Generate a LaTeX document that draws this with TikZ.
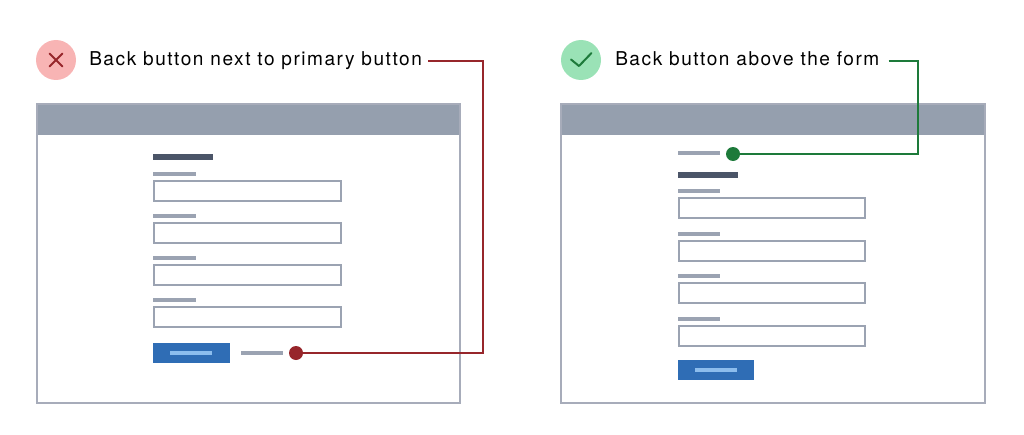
\documentclass[tikz,border=0pt]{standalone}
\usepackage{fontspec}
\setmainfont{TeX Gyre Heros}[LetterSpace=8]
\usetikzlibrary{calc}
\definecolor{headgray}{HTML}{959FAE}
\definecolor{framegray}{HTML}{A7ACBA}
\definecolor{fieldgray}{HTML}{9BA3B2}
\definecolor{headdark}{HTML}{4B5568}
\definecolor{btnblue}{HTML}{2F6DB5}
\definecolor{btnlight}{HTML}{8CBDED}
\definecolor{badred}{HTML}{97262B}
\definecolor{badpink}{HTML}{F8B4B4}
\definecolor{goodgreen}{HTML}{1D7A3A}
\definecolor{goodmint}{HTML}{9AE2B6}
\tikzset{
  winframe/.style={draw=framegray, line width=1.1pt},
  fieldbar/.style={draw=fieldgray, line width=2.4pt},
  headbar/.style={draw=headdark, line width=4.5pt},
  fieldbox/.style={draw=fieldgray, line width=1.6pt},
  btnline/.style={draw=btnlight, line width=2.4pt},
  icon/.style={circle, minimum size=30pt, inner sep=0pt},
  dot/.style={circle, minimum size=10.5pt, inner sep=0pt},
  caption/.style={anchor=base west, inner sep=0pt, font=\fontsize{14.3}{16}\selectfont},
}
\begin{document}
\begin{tikzpicture}[x=0.75pt,y=-0.75pt]
  \useasboundingbox (0,0) rectangle (1024,435);

  % Bad example: icon and caption
  \node[icon, fill=badpink] (badicon) at (56,60) {};
  \draw[badred, line width=1.5pt, line cap=round]
    ($(badicon.center)+(-6.5,-6.5)$) -- ($(badicon.center)+(6.5,6.5)$)
    ($(badicon.center)+(-6.5,6.5)$) -- ($(badicon.center)+(6.5,-6.5)$);
  \node[caption] (badtext) at (89,66) {Back button next to primary button};

  % Bad example: window
  \fill[headgray] (37,104) rectangle (460,135);
  \draw[winframe] (37,104) rectangle (460,403);
  \draw[headbar] (153,157) -- (213,157);
  \foreach \t in {181,223,265,307} {
    \draw[fieldbar] (153,\t-7) -- (196,\t-7);
    \draw[fieldbox] (154,\t) rectangle (341,\t+20);
  }
  \fill[btnblue] (153,343) rectangle (230,363);
  \draw[btnline] (170,353) -- (212,353);
  \draw[fieldbar] (241,353) -- (283,353);

  % Bad example: leader to back button
  \coordinate (badturn) at (483,353);
  \node[dot, fill=badred] (baddot) at (296,353) {};
  \draw[badred, line width=0.9pt] ($(badtext.base east)+(6,-5)$) -| (badturn) -- (baddot);

  % Good example: icon and caption
  \node[icon, fill=goodmint] (goodicon) at (581,60) {};
  \draw[goodgreen, line width=1.5pt, line cap=round, line join=round]
    ($(goodicon.center)+(-10,-0.5)$) -- ($(goodicon.center)+(-2,6)$) -- ($(goodicon.center)+(10.5,-7)$);
  \node[caption] (goodtext) at (615,66) {Back button above the form};

  % Good example: window
  \fill[headgray] (561,104) rectangle (985,135);
  \draw[winframe] (561,104) rectangle (985,403);
  \draw[fieldbar] (678,153) -- (720,153);
  \draw[headbar] (678,175) -- (738,175);
  \foreach \t in {198,241,283,326} {
    \draw[fieldbar] (678,\t-7) -- (720,\t-7);
    \draw[fieldbox] (679,\t) rectangle (865,\t+20);
  }
  \fill[btnblue] (678,360) rectangle (754,380);
  \draw[btnline] (695,370) -- (737,370);

  % Good example: leader to back button
  \coordinate (goodturn) at (918,154);
  \node[dot, fill=goodgreen] (gooddot) at (733,154) {};
  \draw[goodgreen, line width=0.9pt] ($(goodtext.base east)+(9,-5)$) -| (goodturn) -- (gooddot);
\end{tikzpicture}
\end{document}
